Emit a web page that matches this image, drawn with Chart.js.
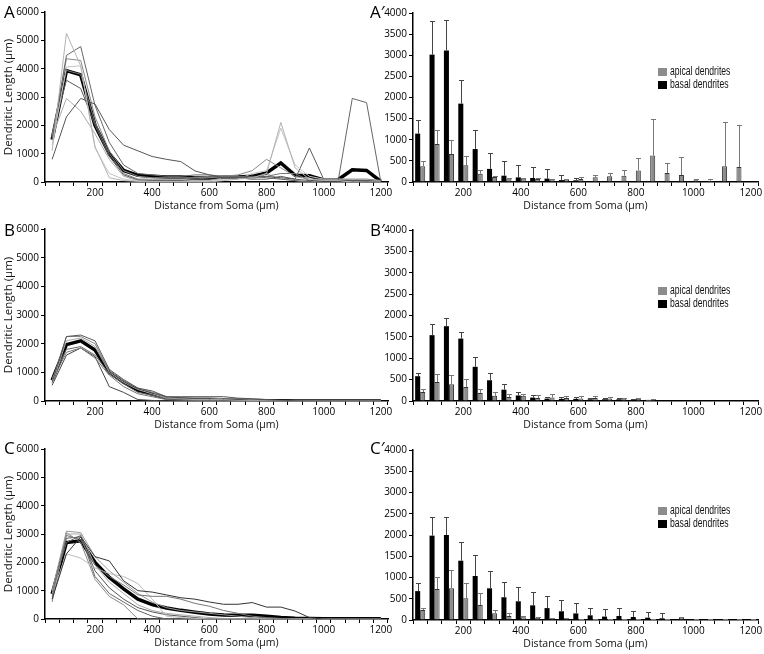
<!DOCTYPE html>
<html lang="en">
<head>
<meta charset="UTF-8">
<title>Dendritic Length vs Distance from Soma</title>
<script src="https://cdn.jsdelivr.net/npm/chart.js@4.4.1/dist/chart.umd.min.js"></script>
<style>
    body { margin: 0; background: #fff; font-family: 'Open Sans', sans-serif; }
    #fig { position: relative; width: 764px; height: 654px; overflow: hidden; }
    #fig canvas { position: absolute; }
    .tag { position: absolute; font-size: 17px; line-height: 20px; color: #000; }
    .legend { position: absolute; left: 658px; font-family: 'Liberation Sans', sans-serif; font-size: 12.5px; line-height: 13px; color: #111; white-space: nowrap; }
    .legend .sw { display: inline-block; width: 9px; height: 8px; margin-right: 3px; vertical-align: -1px; }
    .legend .tx { display: inline-block; transform: scaleX(0.69); transform-origin: left center; }
</style>
</head>
<body>
<div id="fig">
    <canvas id="chartA" width="395" height="212" style="left:0;top:0"></canvas>
    <canvas id="chartB" width="395" height="214" style="left:0;top:217px"></canvas>
    <canvas id="chartC" width="395" height="212" style="left:0;top:437px"></canvas>
    <canvas id="chartA2" width="384" height="211" style="left:380px;top:1px"></canvas>
    <canvas id="chartB2" width="384" height="213" style="left:380px;top:218px"></canvas>
    <canvas id="chartC2" width="384" height="212" style="left:380px;top:438px"></canvas>

    <div class="tag" style="left:4px;top:2px">A</div>
    <div class="tag" style="left:370px;top:2px">A′</div>
    <div class="tag" style="left:4px;top:220px">B</div>
    <div class="tag" style="left:370px;top:220px">B′</div>
    <div class="tag" style="left:4px;top:438px">C</div>
    <div class="tag" style="left:370px;top:438px">C′</div>

    <div class="legend" style="top:65px"><span class="sw" style="background:#8c8c8c"></span><span class="tx">apical dendrites</span><br><span class="sw" style="background:#000"></span><span class="tx">basal dendrites</span></div>
    <div class="legend" style="top:284px"><span class="sw" style="background:#8c8c8c"></span><span class="tx">apical dendrites</span><br><span class="sw" style="background:#000"></span><span class="tx">basal dendrites</span></div>
    <div class="legend" style="top:504px"><span class="sw" style="background:#8c8c8c"></span><span class="tx">apical dendrites</span><br><span class="sw" style="background:#000"></span><span class="tx">basal dendrites</span></div>
</div>

<script>
    // distance bins (µm), one value per 50 µm shell
    const distanceBins = ['50', '100', '150', '200', '250', '300', '350', '400', '450', '500', '550', '600',
        '650', '700', '750', '800', '850', '900', '950', '1000', '1050', '1100', '1150', '1200'];

    // ---- panel A: single cells + mean ----
    const cellTracesA = [
        [1100, 5250, 4100, 1250, 150, 50, 20, 20, 0, 0, 0, 0, 50, 100, 150, 300, 2100, 500, 100, 50, 50, 0, 0, 0],
        [800, 2300, 2950, 2750, 1850, 1300, 1100, 900, 800, 720, 390, 250, 150, 150, 200, 200, 150, 100, 50, 50, 50, 50, 50, 0],
        [1500, 4470, 4780, 2700, 1400, 600, 300, 250, 200, 200, 250, 250, 200, 200, 200, 150, 100, 50, 0, 0, 0, 2950, 2800, 0],
        [1600, 4350, 4290, 2300, 1100, 400, 200, 150, 150, 150, 150, 150, 200, 250, 400, 800, 500, 200, 100, 100, 100, 100, 100, 50],
        [1300, 4060, 4100, 1200, 300, 100, 30, 20, 20, 20, 20, 20, 100, 100, 300, 400, 1900, 600, 200, 100, 100, 100, 100, 50],
        [1500, 3940, 3800, 2100, 1000, 300, 100, 100, 100, 100, 150, 200, 200, 200, 150, 200, 300, 300, 50, 100, 100, 50, 50, 50],
        [1700, 3590, 3300, 2000, 900, 250, 80, 50, 50, 50, 100, 150, 150, 150, 100, 100, 200, 100, 1200, 100, 100, 50, 0, 0],
        [1600, 2950, 2500, 1700, 800, 200, 50, 50, 50, 50, 50, 50, 150, 150, 100, 300, 100, 50, 0, 50, 50, 0, 50, 0]
    ];
    const meanA = [1500, 3930, 3780, 2000, 1000, 410, 235, 200, 175, 175, 140, 140, 165, 175, 200, 320, 670, 235, 220, 70, 80, 430, 410, 20];
    const traceGraysA = ['#b3b3b3', '#555', '#666', '#8a8a8a', '#c4c4c4', '#777', '#5a5a5a', '#aaa'];

    // ---- panel B ----
    const cellTracesB = [
        [650, 2250, 2300, 2100, 1100, 750, 450, 350, 150, 150, 150, 150, 150, 100, 80, 50, 30, 10, 0, 0, 0, 0, 0, 0],
        [700, 2250, 2250, 2000, 1050, 700, 450, 300, 120, 100, 100, 100, 80, 80, 50, 30, 10, 0, 0, 0, 0, 0, 0, 0],
        [600, 2100, 2200, 1900, 1000, 650, 400, 250, 100, 80, 50, 50, 50, 30, 20, 10, 0, 0, 0, 0, 0, 0, 0, 0],
        [800, 1800, 1900, 1600, 950, 600, 300, 200, 80, 50, 50, 30, 30, 20, 10, 0, 0, 0, 0, 0, 0, 0, 0, 0],
        [700, 1700, 1850, 1500, 900, 500, 250, 150, 50, 30, 20, 20, 10, 0, 0, 0, 0, 0, 0, 0, 0, 0, 0, 0],
        [550, 1600, 1850, 1550, 500, 300, 50, 20, 0, 0, 0, 0, 0, 0, 0, 0, 0, 0, 0, 0, 0, 0, 0, 0]
    ];
    const meanB = [730, 1965, 2100, 1780, 1000, 650, 380, 245, 100, 70, 50, 50, 40, 30, 20, 10, 5, 0, 0, 0, 0, 0, 0, 0];
    const traceGraysB = ['#555', '#888', '#aaa', '#666', '#777', '#444'];

    // ---- panel C ----
    const cellTracesC = [
        [700, 2300, 2900, 2200, 2050, 1350, 1000, 950, 850, 750, 700, 600, 520, 520, 580, 420, 420, 280, 50, 0, 0, 0, 0, 0],
        [800, 2950, 2800, 1900, 1500, 1200, 850, 800, 800, 700, 550, 450, 300, 200, 100, 50, 20, 0, 0, 0, 0, 0, 0, 0],
        [900, 2300, 2150, 1800, 1600, 1500, 1250, 700, 100, 50, 20, 0, 0, 0, 0, 0, 0, 0, 0, 0, 0, 0, 0, 0],
        [1000, 3100, 3050, 2200, 1700, 1300, 900, 600, 400, 300, 250, 200, 150, 100, 50, 0, 0, 0, 0, 0, 0, 0, 0, 0],
        [1000, 2850, 2900, 1700, 1100, 700, 400, 250, 150, 100, 50, 0, 0, 0, 0, 0, 0, 0, 0, 0, 0, 0, 0, 0],
        [700, 3000, 3000, 1900, 1300, 900, 500, 300, 200, 150, 100, 50, 20, 0, 0, 0, 0, 0, 0, 0, 0, 0, 0, 0],
        [1000, 2700, 2950, 1500, 900, 600, 300, 100, 0, 0, 0, 0, 0, 0, 0, 0, 0, 0, 0, 0, 0, 0, 0, 0],
        [600, 3050, 2700, 1400, 800, 500, 0, 0, 0, 0, 0, 0, 0, 0, 0, 0, 0, 0, 0, 0, 0, 0, 0, 0]
    ];
    const meanC = [880, 2700, 2760, 2000, 1470, 1060, 700, 505, 390, 305, 235, 175, 140, 130, 130, 95, 50, 25, 15, 5, 5, 5, 5, 5];
    const traceGraysC = ['#333', '#777', '#bbb', '#999', '#555', '#aaa', '#666', '#888'];

    // ---- bar panels: mean and SD per bin ----
    const basalA = [1145, 3015, 3115, 1855, 780, 310, 150, 110, 95, 80, 45, 40, 0, 0, 0, 0, 0, 0, 0, 0, 0, 0, 0, 0];
    const basalSdA = [315, 805, 710, 565, 460, 375, 340, 285, 260, 230, 130, 55, 0, 0, 0, 0, 0, 0, 0, 0, 0, 0, 0, 0];
    const apicalA = [370, 900, 660, 395, 195, 120, 80, 80, 70, 60, 60, 70, 115, 135, 150, 275, 625, 215, 165, 40, 30, 370, 355, 0];
    const apicalSdA = [120, 320, 335, 225, 95, 30, 20, 15, 15, 10, 10, 50, 60, 75, 125, 295, 875, 235, 425, 30, 50, 1050, 1000, 0];

    const basalB = [580, 1540, 1750, 1460, 800, 485, 265, 130, 80, 55, 50, 50, 40, 40, 40, 30, 25, 10, 5, 5, 5, 5, 5, 5];
    const basalSdB = [80, 250, 180, 160, 230, 170, 140, 80, 70, 40, 40, 40, 30, 30, 30, 20, 10, 0, 0, 0, 0, 0, 0, 0];
    const apicalB = [210, 445, 390, 330, 190, 120, 95, 120, 70, 80, 70, 60, 70, 60, 55, 45, 30, 15, 10, 10, 10, 10, 10, 10];
    const apicalSdB = [80, 195, 210, 190, 100, 90, 60, 50, 80, 90, 40, 50, 40, 35, 20, 15, 10, 0, 0, 0, 0, 0, 0, 0];

    const basalC = [680, 1985, 2000, 1395, 1035, 745, 535, 440, 345, 280, 205, 155, 110, 80, 95, 70, 55, 40, 15, 5, 5, 5, 5, 5];
    const basalSdC = [180, 445, 415, 450, 495, 415, 365, 345, 320, 285, 265, 235, 165, 185, 195, 140, 140, 115, 0, 0, 0, 0, 0, 0];
    const apicalC = [235, 730, 745, 510, 355, 160, 95, 65, 50, 40, 35, 25, 25, 20, 20, 15, 15, 10, 55, 15, 10, 10, 10, 10];
    const apicalSdC = [55, 290, 430, 370, 275, 75, 60, 20, 15, 10, 10, 10, 10, 10, 10, 5, 5, 5, 25, 5, 5, 5, 5, 5];

    const tickFont = { family: 'Open Sans', size: 10 };

    function xAxis() {
        return {
            type: 'category',
            offset: true,
            grid: { display: true, drawOnChartArea: false, drawTicks: true, tickLength: 4, offset: true, color: '#000', lineWidth: 1 },
            border: { display: true, color: '#000', width: 1.5 },
            ticks: {
                autoSkip: false, maxRotation: 0, padding: 1, color: '#000', font: tickFont,
                callback: function (v) {
                    const l = this.getLabelForValue(v);
                    return (+l % 200 === 0) ? l : '';
                }
            },
            title: { display: true, text: 'Distance from Soma (µm)', color: '#111', font: { family: 'Open Sans', size: 10.5 }, padding: { top: 0, bottom: 0 } },
            afterFit: function (s) { s.height = 30; }
        };
    }

    function yAxis(max, step, width, withTitle) {
        return {
            min: 0, max: max,
            grid: { drawOnChartArea: false, drawTicks: true, tickLength: 4, color: '#000' },
            border: { display: true, color: '#000', width: 1.5 },
            ticks: { stepSize: step, padding: 2, color: '#000', font: tickFont, callback: function (v) { return String(v); } },
            title: { display: withTitle, text: 'Dendritic Length (µm)', color: '#111', font: { family: 'Open Sans', size: 11.5 }, padding: { top: 2, bottom: 0 } },
            afterFit: function (s) { s.width = width; }
        };
    }

    function lineChart(id, traces, mean, grays) {
        const sets = traces.map(function (t, i) {
            return { data: t, borderColor: grays[i], borderWidth: 1, pointRadius: 0, tension: 0 };
        });
        sets.push({ data: mean, borderColor: '#000', borderWidth: 3.5, pointRadius: 0, tension: 0 });
        new Chart(document.getElementById(id), {
            type: 'line',
            data: { labels: distanceBins, datasets: sets },
            options: {
                responsive: false, animation: false,
                layout: { padding: { top: 12, right: 7, left: 0, bottom: 0 } },
                plugins: { legend: { display: false }, tooltip: { enabled: false } },
                scales: { x: xAxis(), y: yAxis(6000, 1000, 45, true) }
            }
        });
    }

    // SD whiskers drawn above each bar
    const errorBars = {
        id: 'errorBars',
        afterDatasetsDraw: function (chart) {
            const ctx = chart.ctx;
            const y = chart.scales.y;
            chart.data.datasets.forEach(function (ds, i) {
                const meta = chart.getDatasetMeta(i);
                ctx.save();
                ctx.strokeStyle = ds.whiskerColor;
                ctx.lineWidth = 1;
                meta.data.forEach(function (bar, j) {
                    const sd = ds.sd[j];
                    if (!sd) return;
                    const top = Math.round(y.getPixelForValue(ds.data[j] + sd)) + 0.5;
                    const x = Math.round(bar.x) + 0.5;
                    ctx.beginPath();
                    ctx.moveTo(x, bar.y);
                    ctx.lineTo(x, top);
                    ctx.moveTo(x - 2.5, top);
                    ctx.lineTo(x + 2.5, top);
                    ctx.stroke();
                });
                ctx.restore();
            });
        }
    };

    function barChart(id, basal, basalSd, apical, apicalSd) {
        new Chart(document.getElementById(id), {
            type: 'bar',
            data: {
                labels: distanceBins,
                datasets: [
                    { label: 'basal dendrites', data: basal, sd: basalSd, backgroundColor: '#000', borderColor: '#000', borderWidth: 0, whiskerColor: '#444' },
                    { label: 'apical dendrites', data: apical, sd: apicalSd, backgroundColor: '#8c8c8c', borderColor: '#333', borderWidth: 1, whiskerColor: '#777' }
                ]
            },
            options: {
                responsive: false, animation: false,
                categoryPercentage: 0.7, barPercentage: 1.0,
                layout: { padding: { top: 12, right: 6, left: 0, bottom: 0 } },
                plugins: { legend: { display: false }, tooltip: { enabled: false } },
                scales: { x: xAxis(), y: yAxis(4000, 500, 33, false) }
            },
            plugins: [errorBars]
        });
    }

    lineChart('chartA', cellTracesA, meanA, traceGraysA);
    lineChart('chartB', cellTracesB, meanB, traceGraysB);
    lineChart('chartC', cellTracesC, meanC, traceGraysC);
    barChart('chartA2', basalA, basalSdA, apicalA, apicalSdA);
    barChart('chartB2', basalB, basalSdB, apicalB, apicalSdB);
    barChart('chartC2', basalC, basalSdC, apicalC, apicalSdC);
</script>
</body>
</html>
